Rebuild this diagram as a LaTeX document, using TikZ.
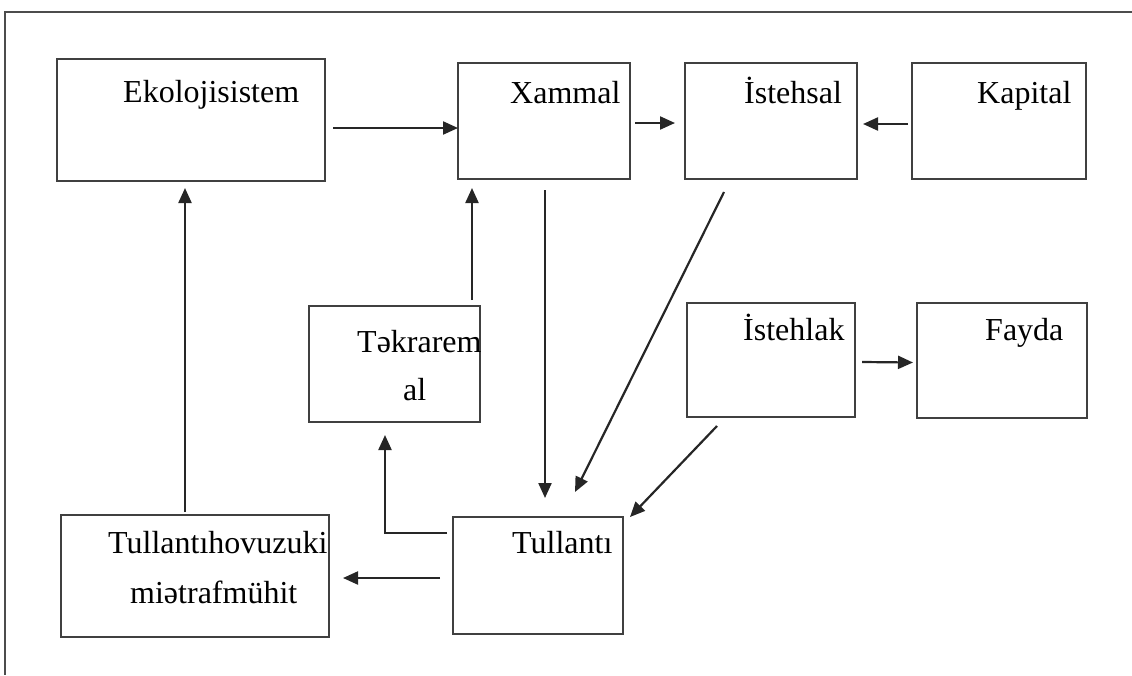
\documentclass[tikz,border=0pt]{standalone}
\usepackage{fontspec}
\setmainfont{Liberation Serif}
\usetikzlibrary{arrows.meta}
\begin{document}
\begin{tikzpicture}[x=1pt,y=-1pt,
  box/.style={draw=black!75,line width=2.6pt,inner sep=0pt,outer sep=0pt,rectangle},
  lbl/.style={anchor=base west,inner sep=0pt,font=\fontsize{32}{38}\selectfont},
  arr/.style={draw=black!85,line width=2.2pt,-{Triangle[length=15pt,width=13pt]}},
  frame/.style={draw=black!70,line width=2.4pt}]
\useasboundingbox (0,0) rectangle (1132,675);
\coordinate (ftr) at (1132,12);
\coordinate (ftl) at (5,12);
\coordinate (fbl) at (5,675);
\draw[frame] (ftr) -- (ftl) -- (fbl);
% boxes
\node[box,minimum width=268pt,minimum height=122pt] (eko) at (191,120) {};
\node[box,minimum width=172pt,minimum height=116pt] (xam) at (544,121) {};
\node[box,minimum width=172pt,minimum height=116pt] (ist) at (771,121) {};
\node[box,minimum width=174pt,minimum height=116pt] (kap) at (999,121) {};
\node[box,minimum width=171pt,minimum height=116pt] (tek) at (394.5,364) {};
\node[box,minimum width=168pt,minimum height=114pt] (isl) at (771,360) {};
\node[box,minimum width=170pt,minimum height=115pt] (fay) at (1002,360.5) {};
\node[box,minimum width=268pt,minimum height=122pt] (tho) at (195,576) {};
\node[box,minimum width=170pt,minimum height=117pt] (tul) at (538,575.5) {};
% labels
\node[lbl] (teko) at (123,102) {Ekolojisistem};
\node[lbl] (txam) at (510,103) {Xammal};
\node[lbl] (tist) at (744,103) {İstehsal};
\node[lbl] (tkap) at (977,103) {Kapital};
\node[lbl] (ttek1) at (357,352) {Təkrarem};
\node[lbl] (ttek2) at (403,400) {al};
\node[lbl] (tisl) at (743,340) {İstehlak};
\node[lbl] (tfay) at (985,340) {Fayda};
\node[lbl] (ttho1) at (108,553) {Tullantıhovuzuki};
\node[lbl] (ttho2) at (130,603) {miətrafmühit};
\node[lbl] (ttul) at (512,553) {Tullantı};
% arrows
\draw[arr] ([xshift=8pt,yshift=-8pt]eko.east) -- ([yshift=-8pt]eko.east -| xam.west);
\draw[arr] ([xshift=5pt,yshift=-2pt]xam.east) -- ([xshift=-10pt,yshift=-2pt]ist.west);
\draw[arr] ([xshift=-4pt,yshift=-3pt]kap.west) -- ([xshift=6pt,yshift=-3pt]ist.east);
\draw[arr] ([xshift=1pt,yshift=-11pt]xam.south) -- ([xshift=1pt,yshift=19pt]xam.south |- tul.north);
\draw[arr] ([xshift=-47pt,yshift=-13pt]ist.south) -- ([xshift=37pt,yshift=25pt]tul.north);
\draw[arr] ([xshift=-54pt,yshift=-9pt]isl.south) -- ([xshift=7pt,yshift=0pt]tul.north east);
\draw[arr] ([xshift=7pt,yshift=-2pt]isl.east) -- ([xshift=-4pt,yshift=-2pt]fay.west);
\draw[arr] ([xshift=-8pt,yshift=6pt]tek.north east) -- ([xshift=-8pt,yshift=-9pt]tek.north east |- xam.south);
\draw[arr] ([xshift=-6pt,yshift=-16pt]tul.north west) -| ([xshift=-9.5pt,yshift=-13pt]tek.south);
\draw[arr] ([xshift=-13pt,yshift=-2.5pt]tul.west) -- ([xshift=14pt,yshift=-2.5pt]tul.west -| tho.east);
\draw[arr] ([xshift=-10pt,yshift=3pt]tho.north) -- ([xshift=-10pt,yshift=-7pt]tho.north |- eko.south);
\end{tikzpicture}
\end{document}
